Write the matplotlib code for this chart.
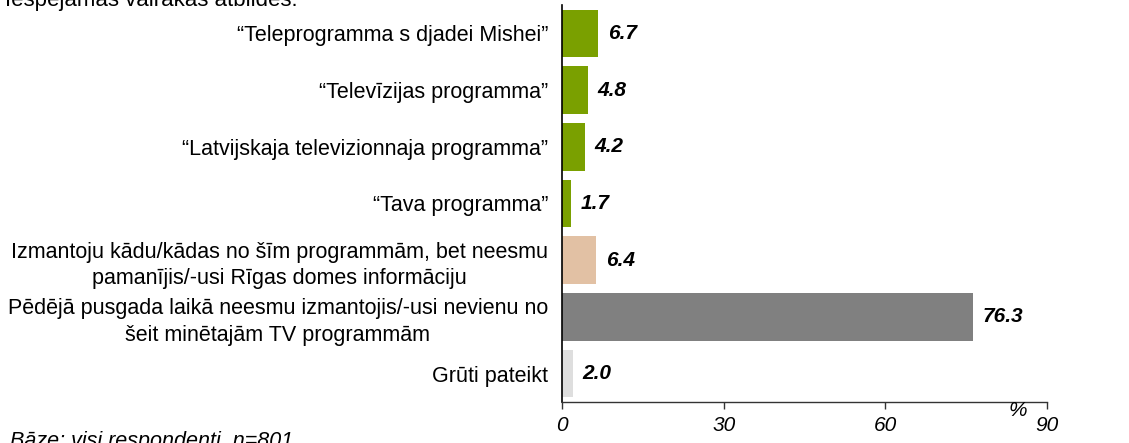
import matplotlib
matplotlib.use("Agg")
import matplotlib.pyplot as plt

categories = [
    "“Teleprogramma s djadei Mishei”",
    "“Televīzijas programma”",
    "“Latvijskaja televizionnaja programma”",
    "“Tava programma”",
    "Izmantoju kādu/kādas no šīm programmām, bet neesmu\npamanījis/-usi Rīgas domes informāciju",
    "Pēdējā pusgada laikā neesmu izmantojis/-usi nevienu no\nšeit minētajām TV programmām",
    "Grūti pateikt",
]
values = [6.7, 4.8, 4.2, 1.7, 6.4, 76.3, 2.0]
colors = ["#7AA000", "#7AA000", "#7AA000", "#7AA000", "#E2C1A4", "#808080", "#DEDEDE"]
xticks = [0, 30, 60, 90]
title = "Iespējamas vairākas atbildes."
footnote = "Bāze: visi respondenti, n=801"

plt.rcParams['font.family'] = ['Liberation Sans', 'DejaVu Sans']

fig = plt.figure(figsize=(11.29, 4.43), dpi=100)
ax = fig.add_axes([562/1129, 1-402/443, (1047-562)/1129, (402-5)/443])

y = list(range(len(categories)))
ax.barh(y, values, height=0.84, color=colors)
ax.set_ylim(len(categories)-0.5, -0.5)
ax.set_xlim(0, 90)
ax.set_yticks(y)
ax.set_yticklabels(categories, fontsize=15.5, multialignment='center', linespacing=1.35)
ax.tick_params(axis='y', length=0, pad=10)
ax.set_xticks(xticks)
ax.set_xticklabels([str(t) for t in xticks], fontsize=15, style='italic')
ax.tick_params(axis='x', direction='out', length=5, width=1, pad=5, color='#333333')

for sp in ['top', 'right']:
    ax.spines[sp].set_visible(False)
ax.spines['left'].set_linewidth(1.2)
ax.spines['bottom'].set_linewidth(1.0)
ax.spines['bottom'].set_color('#333333')

for yi, v in zip(y, values):
    ax.annotate(f"{v:.1f}", xy=(v, yi), xytext=(7, 0), textcoords='offset points',
                va='center', ha='left', fontsize=15, fontweight='bold', style='italic')

fig.text(1018/1129, 1-411/443, "%", fontsize=15, style='italic', ha='center', va='center')
fig.text(5/1129, 1-6/443, title, fontsize=16, ha='left', va='baseline')
fig.text(10/1129, -4/443, footnote, fontsize=15.5, style='italic', ha='left', va='baseline')

fig.savefig("out.png", dpi=100)
